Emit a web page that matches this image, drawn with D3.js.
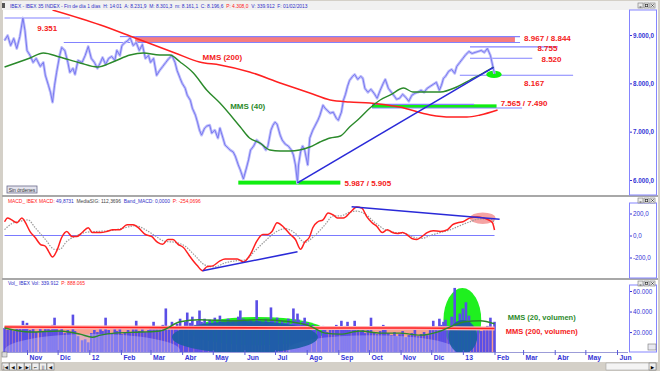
<!DOCTYPE html>
<html><head><meta charset="utf-8">
<script src="https://cdn.jsdelivr.net/npm/d3@7"></script>
<style>
body{margin:0;background:#fff}
svg{display:block;font-family:"Liberation Sans",Arial,sans-serif}
.pre{white-space:pre}
</style>
</head><body>
<svg id="c" width="660" height="371"></svg>
<script>
// ---------- DATA ----------
const baseDate = new Date(2011, 10, 1); // day offsets below are counted from 1 Nov 2011
const days = [-22,-19,-16,-13,-10,-7,-4,-2,0,3,6,9,13,16,18,21,23,25,27,29,32,34,37,40,42,45,47,50,54,57,60,63,66,69,72,74,77,80,83,86,88,91,93,96,99,101,104,107,110,113,116,119,121,124,127,130,133,136,139,142,145,147,150,152,155,157,160,162,165,167,169,171,174,176,179,181,184,187,189,192,194,197,199,202,204,207,209,212,215,217,219,222,225,228,231,234,236,239,241,243,245,248,250,253,256,259,261,263,265,266,268,270,272,274,275,277,280,282,285,287,290,292,294,297,300,303,305,308,310,312,314,316,319,321,324,327,329,331,334,337,340,343,346,349,351,354,357,360,362,365,368,371,374,377,380,383,386,389,392,395,398,401,404,406,408,410,413,416,419,421,424,427,430,433,436,439,442,445,448,451,454,458];
const closePrice = [8886,8989,8783,8927,8721,8968,9351,9092,8680,8577,8433,8515,8350,8433,8165,7959,7815,7609,7959,8227,8577,8742,8680,8433,8227,8309,8185,8474,8433,8577,8762,8515,8433,8309,8433,8536,8391,8515,8556,8474,8680,8577,8783,8845,8886,8948,8783,8845,8680,8803,8515,8577,8433,8515,8165,8268,8350,8433,8515,8577,8433,8268,8103,8000,7897,7753,7650,7485,7341,7197,7032,6929,7073,7114,7135,6970,7032,6867,7073,6867,6723,6661,6620,6579,6496,6311,6208,6022,6249,6414,6620,6702,6826,6764,6723,6620,6702,7032,7135,7197,7155,6929,6826,6743,6702,6620,6517,6311,5940,6311,6579,6702,6620,6414,6311,6867,7032,7114,7238,7341,7547,7485,7444,7382,7403,7279,7238,7403,7650,7773,7938,8062,8144,8185,8082,8144,8103,7897,7815,7876,7794,7691,7856,8000,8082,7897,7815,7732,7670,7691,7773,7712,7629,7753,7794,7815,7856,7815,7897,7938,7979,8021,7856,7959,8103,8144,8247,8288,8206,8350,8433,8515,8597,8659,8618,8639,8659,8680,8639,8721,8577,8197];
const volumeK = [24,22,26,21,25,23,31,27,29,22,24,20,26,21,23,25,22,27,34,24,21,23,19,22,20,37,21,16,12,13,10,19,22,20,24,21,34,22,19,25,21,23,18,20,22,19,24,31,21,23,20,22,24,30,25,23,27,43,26,30,24,28,33,25,30,39,29,35,27,31,41,30,33,27,32,29,34,28,36,30,27,33,29,31,26,35,41,33,30,27,32,29,51,31,28,33,30,44,32,29,34,27,31,29,33,28,43,31,38,32,27,30,34,26,29,24,27,22,25,21,26,23,20,24,22,27,25,31,23,26,30,22,25,31,24,21,23,19,22,34,20,18,21,27,22,19,17,20,16,18,21,15,17,19,22,16,18,20,17,24,31,25,33,27,30,32,26,35,63,30,38,43,49,36,25,22,24,21,23,26,34,30];

const ma200Days = [25,72,106,145,169,189,218,248,277,297,316,336,365,395,415,431,444,461];
const ma200 = [9517,9207,8938,8628,8441,8379,8235,8008,7800,7655,7614,7593,7510,7345,7303,7303,7345,7448];
const ma40Days = [-22,3,16,32,52,69,84,101,114,130,140,150,163,176,189,209,218,228,238,248,258,267,277,287,297,307,316,326,336,346,356,369,378,392,405,421,434,447,457];
const ma40 = [8338,8524,8628,8545,8421,8338,8441,8586,8628,8586,8586,8441,8214,7862,7593,7097,6869,6766,6621,6600,6600,6621,6683,6786,6869,6910,7097,7283,7490,7655,7759,7903,7821,7821,7821,7924,8069,8214,8338];

const macdDays = [-22,-19,-15,-10,-5,-2,3,8,13,18,21,25,29,34,39,44,49,54,60,64,72,78,84,91,98,104,109,116,122,128,133,138,143,148,153,160,167,172,176,182,189,194,199,206,212,219,225,231,236,240,245,251,258,263,268,272,277,280,285,290,295,300,304,310,317,323,328,333,338,343,348,353,358,363,368,372,377,382,387,392,398,405,412,417,422,427,434,441,447,452,456,458];
const macd = [125,160,142,116,160,125,36,-18,-80,-98,-142,-196,-142,-18,36,-9,-9,27,71,27,27,36,53,53,98,98,71,9,-9,-62,-80,-36,-36,-80,-107,-196,-276,-320,-285,-276,-231,-214,-214,-214,-240,-169,-53,9,9,36,116,80,9,-36,-125,-62,-9,71,125,142,205,187,160,160,214,258,249,169,116,80,27,53,27,18,27,9,-27,-36,-9,27,44,36,53,98,116,125,160,169,160,142,116,50];
const signalDays = [-22,-15,-5,1,8,18,27,32,39,47,57,67,81,96,106,116,125,135,145,155,165,174,184,194,204,214,223,233,243,253,263,272,282,292,300,307,317,323,331,341,351,361,370,380,387,395,405,415,424,434,444,454,458];
const signal = [53,107,133,142,71,-36,-125,-125,-53,-9,27,36,44,71,89,53,0,-53,-62,-98,-187,-267,-285,-249,-231,-222,-142,-53,27,62,18,-62,0,98,178,178,214,222,196,116,53,27,18,-18,-27,0,27,53,89,125,151,151,112];

const volMa20Days = [-22,3,32,52,64,72,86,111,130,150,169,199,228,258,277,292,307,326,346,365,385,405,419,429,444,458];
const volMa20K = [24,20,21,18,15,17,19,20,21,30,32,31,32,30,26,19,18,21,19,19,17,21,27,30,31,28];
const volMa200Days = [-22,100,250,350,458];
const volMa200K = [25,24.5,24,24,23.5];

const monthTicks = ["Nov","Dic","12","Feb","Mar","Abr","May","Jun","Jul","Ago","Sep","Oct","Nov","Dic","13","Feb","Mar","Abr","May","Jun"];
const priceTicks = [6000,7000,8000,9000];
const macdTicks = [-200,0,200];
const volTicksK = [20,40,60];

// annotations (data space)
const levelLines = [
  {p:9351,d0:-22,d1:42},{p:8844,d0:36,d1:101},{p:8967,d0:91,d1:106},
  {p:8967,d0:106,d1:483},{p:8844,d0:106,d1:483},
  {p:8755,d0:434,d1:520},{p:8520,d0:434,d1:495},{p:8167,d0:424,d1:535},
  {p:7565,d0:338,d1:438},{p:7490,d0:338,d1:485}
];
const bands = [
  {p0:8844,p1:8967,d0:106,d1:478,kind:"red"},
  {p0:7490,p1:7565,d0:338,d1:460,kind:"green"},
  {p0:5905,p1:5987,d0:207,d1:307,kind:"green"}
];
const priceLabels = [
  {t:"9.351",d:10,p:9145,kind:"red"},
  {t:"MMS (200)",d:172,p:8545,kind:"red"},
  {t:"MMS (40)",d:199,p:7531,kind:"green"},
  {t:"8.967 / 8.844",d:487,p:8938,kind:"red"},
  {t:"8.755",d:500,p:8731,kind:"red"},
  {t:"8.520",d:504,p:8503,kind:"red"},
  {t:"8.167",d:487,p:8007,kind:"red"},
  {t:"7.565 / 7.490",d:464,p:7593,kind:"red"},
  {t:"5.987 / 5.905",d:311,p:5938,kind:"red"}
];
const priceTrend = {d0:265,p0:5940,d1:457,p1:8330};
const priceEllipse = {d0:450,d1:465,p0:8110,p1:8260};
const macdTrends = [{d0:172,v0:-320,d1:265,v1:-148},{d0:318,v0:261,d1:463,v1:148}];
const macdEllipse = {d0:434,d1:459,v0:105,v1:210};
const volEllipses = [
  {d0:-22,d1:150,v0:-14,v1:18,kind:"light"},
  {d0:255,d1:420,v0:-12,v1:17,kind:"light"},
  {d0:160,d1:292,v0:7,v1:34.7,kind:"green"},
  {d0:408,d1:445,v0:0.6,v1:62.9,kind:"green"},
  {d0:142,d1:285,v0:-0.5,v1:30.8,kind:"dark"},
  {d0:413,d1:441,v0:-1,v1:31.7,kind:"dark"}
];
const volLabels = [{t:"MMS (20, volumen)",d:471,v:34,kind:"green"},{t:"MMS (200, volumen)",d:469,v:20.5,kind:"red"}];

// ---------- SCALES ----------
const dd = d => d3.timeDay.offset(baseDate, d);
const x = d3.scaleTime().domain([new Date(2011,10,1), new Date(2013,5,1)]).range([27,617]);
const X = d => x(dd(d));
const yP = d3.scaleLinear().domain([6000,9000]).range([180,35]);
const yM = d3.scaleLinear().domain([-200,200]).range([257.5,213.5]);
const yV = d3.scaleLinear().domain([0,60]).range([352.6,291]);

const loc = d3.formatLocale({decimal:",",thousands:".",grouping:[3],currency:["","€"],minus:"-"});
const f1 = loc.format(",.1f"), f0 = loc.format(",.0f");

const C = {blue:"#3434d6", red:"#ff2020", green:"#2b8a2b", lev:"#8282ff"};

const svg = d3.select("#c");
svg.append("rect").attr("width",660).attr("height",371).attr("fill","#d4d0c8");
// header
svg.append("rect").attr("x",2).attr("y",1).attr("width",656).attr("height",9).attr("fill","#f1f1f1");
svg.append("rect").attr("x",2).attr("y",3).attr("width",3).attr("height",5).attr("fill","#555");
// panels
const panels = [{y0:10,y1:195},{y0:197,y1:278},{y0:280,y1:352}];
panels.forEach(p=>svg.append("rect").attr("x",3).attr("y",p.y0).attr("width",655).attr("height",p.y1-p.y0).attr("fill","#fff"));
svg.append("rect").attr("x",2).attr("y",352).attr("width",656).attr("height",10).attr("fill","#fff");
svg.append("rect").attr("x",2).attr("y",195).attr("width",656).attr("height",2).attr("fill","#a8a8a8");
svg.append("rect").attr("x",2).attr("y",278).attr("width",656).attr("height",2).attr("fill","#a8a8a8");

const defs = svg.append("defs");
[["cMain",10,195],["cMacd",197,278],["cVol",280,352]].forEach(([id,a,b])=>{
  defs.append("clipPath").attr("id",id).append("rect").attr("x",3).attr("y",a).attr("width",625).attr("height",b-a);
});

// ---------- MAIN PANEL ----------
const gM = svg.append("g").attr("clip-path","url(#cMain)");
bands.forEach(b=>{
  gM.append("rect").attr("x",X(b.d0)).attr("width",X(b.d1)-X(b.d0))
    .attr("y",yP(b.p1)).attr("height",yP(b.p0)-yP(b.p1))
    .attr("fill", b.kind==="red" ? "#f77d7d" : "#10ee10");
});
levelLines.forEach(l=>{
  gM.append("line").attr("x1",X(l.d0)).attr("x2",X(l.d1)).attr("y1",yP(l.p)).attr("y2",yP(l.p))
    .attr("stroke",C.lev).attr("stroke-width",1.1);
});
gM.append("ellipse").attr("cx",(X(priceEllipse.d0)+X(priceEllipse.d1))/2).attr("cy",(yP(priceEllipse.p0)+yP(priceEllipse.p1))/2)
  .attr("rx",(X(priceEllipse.d1)-X(priceEllipse.d0))/2).attr("ry",(yP(priceEllipse.p0)-yP(priceEllipse.p1))/2).attr("fill","#10ee10");

const pts = days.map((d,i)=>[X(d), yP(closePrice[i])]);
const ln = d3.line();
gM.append("path").attr("d",ln(pts)).attr("fill","none").attr("stroke","#c0c0fb").attr("stroke-width",2.8).attr("stroke-linejoin","round");
gM.append("path").attr("d",ln(pts)).attr("fill","none").attr("stroke","#7070ee").attr("stroke-width",0.9);

const smooth = d3.line().curve(d3.curveMonotoneX);
gM.append("path").attr("d",smooth(ma200Days.map((d,i)=>[X(d),yP(ma200[i])]))).attr("fill","none").attr("stroke",C.red).attr("stroke-width",1.5);
gM.append("path").attr("d",smooth(ma40Days.map((d,i)=>[X(d),yP(ma40[i])]))).attr("fill","none").attr("stroke",C.green).attr("stroke-width",1.4);
gM.append("line").attr("x1",X(priceTrend.d0)).attr("y1",yP(priceTrend.p0)).attr("x2",X(priceTrend.d1)).attr("y2",yP(priceTrend.p1))
  .attr("stroke","#2a2ad8").attr("stroke-width",1.6);
priceLabels.forEach(l=>{
  gM.append("text").attr("x",X(l.d)).attr("y",yP(l.p)).attr("dy","0.35em").text(l.t)
    .attr("font-size",8).attr("font-weight","bold").attr("fill", l.kind==="red" ? "#f42020" : C.green);
});
// Sin órdenes button
svg.append("rect").attr("x",7).attr("y",186).attr("width",30).attr("height",7).attr("fill","#e4e4ee").attr("stroke","#6a6a8a").attr("stroke-width",0.8);
svg.append("text").attr("x",22).attr("y",191.6).attr("text-anchor","middle").attr("font-size",5).attr("fill","#333").text("Sin órdenes");

// ---------- MACD PANEL ----------
const gD = svg.append("g").attr("clip-path","url(#cMacd)");
gD.append("ellipse").attr("cx",(X(macdEllipse.d0)+X(macdEllipse.d1))/2).attr("cy",(yM(macdEllipse.v0)+yM(macdEllipse.v1))/2)
  .attr("rx",(X(macdEllipse.d1)-X(macdEllipse.d0))/2).attr("ry",(yM(macdEllipse.v0)-yM(macdEllipse.v1))/2).attr("fill","#f5a3a3");
gD.append("line").attr("x1",X(-22)).attr("x2",X(458)).attr("y1",yM(0)).attr("y2",yM(0)).attr("stroke","#7a7aff").attr("stroke-width",1);
gD.append("path").attr("d",smooth(signalDays.map((d,i)=>[X(d),yM(signal[i])]))).attr("fill","none").attr("stroke","#9a9a9a").attr("stroke-width",1.2).attr("stroke-dasharray","1.5,1.2");
gD.append("path").attr("d",smooth(macdDays.map((d,i)=>[X(d),yM(macd[i])]))).attr("fill","none").attr("stroke",C.red).attr("stroke-width",1.5);
macdTrends.forEach(t=>gD.append("line").attr("x1",X(t.d0)).attr("y1",yM(t.v0)).attr("x2",X(t.d1)).attr("y2",yM(t.v1)).attr("stroke","#2a2ad8").attr("stroke-width",1.6));

// ---------- VOLUME PANEL ----------
const gV = svg.append("g").attr("clip-path","url(#cVol)");
const m200pts = volMa200Days.map((d,i)=>[X(d),yV(volMa200K[i])]);
gV.append("path").attr("d",d3.area().curve(d3.curveMonotoneX).x(p=>p[0]).y0(yV(0)).y1(p=>p[1])(m200pts)).attr("fill","#f7a190");
const ell = (e,fill,op)=>gV.append("ellipse").attr("cx",(X(e.d0)+X(e.d1))/2).attr("cy",(yV(e.v0)+yV(e.v1))/2)
  .attr("rx",(X(e.d1)-X(e.d0))/2).attr("ry",(yV(e.v0)-yV(e.v1))/2).attr("fill",fill).attr("opacity",op);
volEllipses.filter(e=>e.kind==="green").forEach(e=>ell(e,"#1ff01f",1));
gV.selectAll("rect.vb").data(days).join("rect").attr("class","vb")
  .attr("x",d=>X(d)-1.3).attr("width",2.6)
  .attr("y",(d,i)=>yV(volumeK[i])).attr("height",(d,i)=>yV(0)-yV(volumeK[i]))
  .attr("fill","#5a4ee6");
volEllipses.filter(e=>e.kind==="light").forEach(e=>ell(e,"#c4c4ff",0.4));
volEllipses.filter(e=>e.kind==="dark").forEach(e=>ell(e,"#1c5fa4",0.93));
gV.append("path").attr("d",smooth(m200pts)).attr("fill","none").attr("stroke","#ffb4b4").attr("stroke-width",4);
gV.append("path").attr("d",smooth(m200pts)).attr("fill","none").attr("stroke",C.red).attr("stroke-width",1.6);
gV.append("path").attr("d",smooth(volMa20Days.map((d,i)=>[X(d),yV(volMa20K[i])]))).attr("fill","none").attr("stroke",C.green).attr("stroke-width",1.4);
volLabels.forEach(l=>gV.append("text").attr("x",X(l.d)).attr("y",yV(l.v)).attr("dy","0.35em").text(l.t)
  .attr("font-size",7.5).attr("font-weight","bold").attr("fill", l.kind==="red" ? "#f42020" : C.green));

// ---------- PANEL HEADERS ----------
const hdr = svg.append("text").attr("class","pre").attr("x",10).attr("y",7.8).attr("font-size",4.9);
hdr.append("tspan").attr("fill","#3030c8").text("IBEX - IBEX 35 INDEX - Fin de día 1 días  H: 14:01  A: 8.231,9  M: 8.301,3  m: 8.161,1  C: 8.196,6  ");
hdr.append("tspan").attr("fill","#ff2020").text("P: 4.308,0");
hdr.append("tspan").attr("fill","#3030c8").text("  V: 339.912  F: 01/02/2013");

const mh = svg.append("text").attr("class","pre").attr("x",8).attr("y",202.5).attr("font-size",4.9);
mh.append("tspan").attr("fill","#ff2020").text("MACD_ IBEX MACD: ");
mh.append("tspan").attr("fill","#3030c8").text("49,8731  ");
mh.append("tspan").attr("fill","#444").text("MediaSIG: 112,3696  ");
mh.append("tspan").attr("fill","#3030c8").text("Band_MACD: 0,0000  ");
mh.append("tspan").attr("fill","#ff2020").text("P: -254,0696");

const vh = svg.append("text").attr("class","pre").attr("x",8).attr("y",284.5).attr("font-size",4.9);
vh.append("tspan").attr("fill","#3030c8").text("Vol_ IBEX Vol: 339.912  ");
vh.append("tspan").attr("fill","#ff2020").text("P: 888.065");

// ---------- AXES ----------
[[10,195],[203,278],[285,352]].forEach(([a,b])=>{
  svg.append("rect").attr("x",629.5).attr("y",a).attr("width",27).attr("height",b-a).attr("fill","#fff").attr("stroke","#8585ff").attr("stroke-width",1);
});
function styleAxis(g, bold, size){
  g.select(".domain").remove();
  g.selectAll("line").attr("stroke","#3434d6");
  g.selectAll("text").attr("fill","#3434d6").attr("font-size",size).attr("font-weight",bold?"bold":"normal")
    .attr("font-family",'"Liberation Sans",Arial,sans-serif');
}
const aP = svg.append("g").attr("transform","translate(630,0)").call(d3.axisRight(yP).tickValues(priceTicks).tickSize(2).tickPadding(1).tickFormat(f1));
styleAxis(aP,true,6.3);
const aM = svg.append("g").attr("transform","translate(630,0)").call(d3.axisRight(yM).tickValues(macdTicks).tickSize(2).tickPadding(1).tickFormat(f1));
styleAxis(aM,false,6.3);
const aV = svg.append("g").attr("transform","translate(630,0)").call(d3.axisRight(yV).tickValues(volTicksK).tickSize(2).tickPadding(1).tickFormat(v=>f0(v*1000)));
styleAxis(aV,false,6.3);

const monthDates = d3.timeMonth.range(new Date(2011,10,1), new Date(2013,5,2));
svg.append("line").attr("x1",3).attr("x2",628).attr("y1",352.5).attr("y2",352.5).attr("stroke","#9c9cd8");
const aX = svg.append("g").attr("transform","translate(0,350)")
  .call(d3.axisBottom(x).tickValues(monthDates).tickSize(5).tickPadding(0).tickFormat((d,i)=>monthTicks[i]));
aX.select(".domain").remove();
aX.selectAll("line").attr("stroke","#5a5ad8");
aX.selectAll("text").attr("text-anchor","start").attr("x",2).attr("y",5).attr("dy","0.71em")
  .attr("fill","#3434d6").attr("font-size",6.8).attr("font-weight","bold").attr("font-family",'"Liberation Sans",Arial,sans-serif');

// ---------- WINDOW CHROME ----------
[3,198,281].forEach(y=>{
  [638,644,650].forEach((xx,i)=>{
    svg.append("rect").attr("x",xx).attr("y",y).attr("width",5).attr("height",5).attr("fill","#ececec").attr("stroke","#777").attr("stroke-width",0.6);
  });
  svg.append("line").attr("x1",639.5).attr("x2",641.5).attr("y1",y+4).attr("y2",y+4).attr("stroke","#222").attr("stroke-width",0.8);
  svg.append("rect").attr("x",645.3).attr("y",y+1.3).attr("width",2.4).attr("height",2.4).attr("fill","none").attr("stroke","#222").attr("stroke-width",0.6);
  svg.append("path").attr("d",`M651.3,${y+1.3}L653.7,${y+3.7}M653.7,${y+1.3}L651.3,${y+3.7}`).attr("stroke","#222").attr("stroke-width",0.7);
});
svg.append("rect").attr("x",648).attr("y",344).attr("width",8).attr("height",6).attr("fill","#e8e8f0").attr("stroke","#777").attr("stroke-width",0.6);
// bottom nav bar
svg.append("rect").attr("x",0).attr("y",362).attr("width",660).attr("height",9).attr("fill","#d4d0c8");
svg.append("rect").attr("x",2).attr("y",352).attr("width",5).attr("height",5).attr("fill","#ddd").attr("stroke","#666").attr("stroke-width",0.5);
["|◀","◀","▶","▶|","⌐","||","◀"].forEach((s,i)=>{
  svg.append("rect").attr("x",2+i*7.5).attr("y",363).attr("width",7).attr("height",7).attr("fill","#eeeeee").attr("stroke","#666").attr("stroke-width",0.5);
  svg.append("text").attr("x",5.5+i*7.5).attr("y",368.8).attr("text-anchor","middle").attr("font-size",4.5).attr("fill","#111")
    .attr("font-family","DejaVu Sans").text(s);
});
svg.append("rect").attr("x",606).attr("y",363).attr("width",50).attr("height",7).attr("fill","#f4f4f4").attr("stroke","#999").attr("stroke-width",0.5);
svg.append("rect").attr("x",649).attr("y",363).attr("width",7).attr("height",7).attr("fill","#eeeeee").attr("stroke","#666").attr("stroke-width",0.5);
svg.append("text").attr("x",652.5).attr("y",368.8).attr("text-anchor","middle").attr("font-size",4.5).attr("font-family","DejaVu Sans").text("▶");
</script>
</body></html>
